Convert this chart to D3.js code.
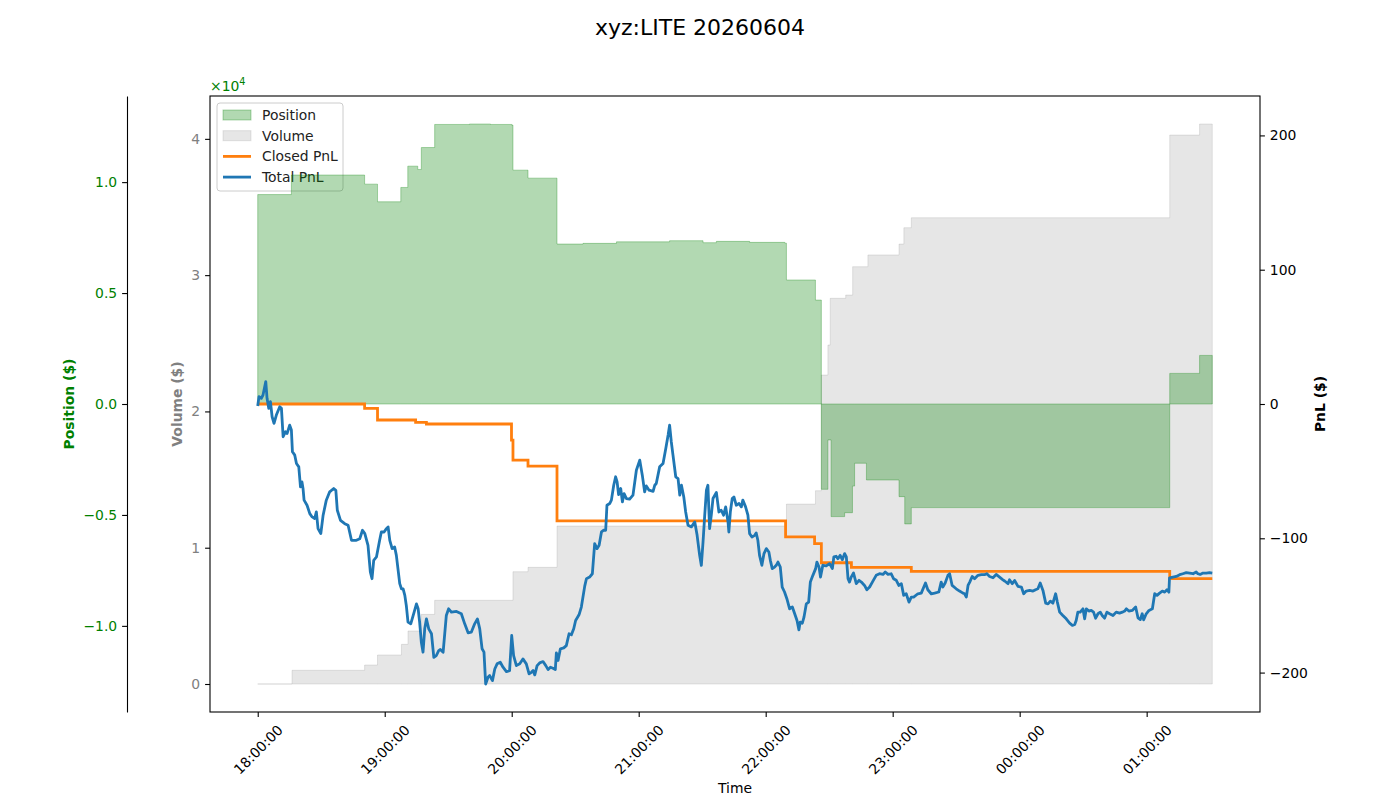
<!DOCTYPE html>
<html lang="en">
<head>
<meta charset="UTF-8">
<title>xyz:LITE 20260604</title>
<style>
    body { margin: 0; background: #fff; }
    svg { display: block; font-family: "DejaVu Sans", sans-serif; }
</style>
</head>
<body>
<svg id="chart" width="1400" height="800"></svg>
<script src="https://d3js.org/d3.v7.min.js"></script>
<script>
// all times are minutes after the session start
var sessionStart = new Date(2026, 5, 4, 18, 0, 0);
var sessionEnd = 451.0;

// position ($), changes at each fill
var positionData = [
    [0, 9440], [15.9, 10320], [50.5, 9910], [56.6, 9115], [67.6, 9760], [70.9, 10720],
    [75.6, 10570], [77.3, 11560], [83.6, 12600], [100, 12620], [110, 12600], [120, 12570],
    [120.6, 10540], [127.7, 10180], [141.4, 7210], [153.7, 7240], [169.5, 7310], [194.6, 7360],
    [210.4, 7270], [216.7, 7330], [232.4, 7285], [249.0, 7250], [249.8, 5590], [263.5, 4685],
    [266.3, -3845], [269.4, -1620], [270.9, -5075], [277.3, -4900], [281.0, -3700], [282.0, -2670],
    [287.6, -3425], [303.0, -4175], [305.7, -5405], [308.8, -4670], [430.9, 1380], [445.0, 2190],
    [451.0, 2190]
];

// cumulative traded volume ($)
var volumeData = [
    [0, 0], [16.2, 1005], [50.5, 1394], [56.6, 2128], [67.9, 2910], [71.0, 3890], [77.3, 5110],
    [83.6, 6140], [120.6, 8240], [127.7, 8560], [141.4, 11590], [249.8, 13200], [263.5, 14180],
    [266.3, 22670], [269.4, 24870], [270.5, 28300], [277.8, 28540], [281.1, 30620], [288.3, 31480],
    [303.0, 32280], [305.3, 33480], [308.8, 34210], [430.9, 40280], [445.0, 41090], [451.0, 41090]
];

// realised pnl ($)
var closedPnlData = [
    [0, 0], [50.5, -3.2], [56.6, -11.9], [74.6, -13.7], [79.7, -14.9], [119.9, -26.9],
    [120.6, -41.8], [127.7, -46.3], [141.4, -87.1], [249.4, -99.0], [263.1, -104.0],
    [266.3, -118.2], [280.5, -121.6], [308.8, -124.6], [430.9, -130.1], [451.0, -130.1]
];

// realised + unrealised pnl ($)
var totalPnlData = [
    [0, -1.5], [0.6, 5.5], [1.7, 4.2], [2.5, 6.7], [3.8, 16.7], [4.4, 4.2], [5.2, -3.2], [6.0, 1.7],
    [6.8, -9.5], [7.7, -14.4], [8.8, -8.2], [10.4, -2.0], [11.2, -3.2], [12.0, -24.4], [13.1, -20.6],
    [13.9, -21.9], [15.1, -15.7], [15.9, -19.4], [16.4, -35.6], [17.5, -38.1], [18.3, -44.3],
    [19.4, -46.8], [20.2, -61.7], [20.9, -58.0], [21.4, -62.9], [21.9, -71.6], [23.3, -75.4],
    [24.6, -81.6], [25.7, -84.1], [26.9, -85.3], [27.7, -80.4], [28.5, -92.8], [29.8, -96.5],
    [30.9, -82.8], [32.4, -71.6], [34.0, -65.4], [35.9, -62.9], [36.9, -64.2], [37.6, -79.1],
    [39.1, -86.6], [41.1, -89.1], [42.7, -90.3], [44.3, -101.5], [46.6, -101.5], [48.2, -100.3],
    [49.5, -94.0], [50.6, -96.5], [52.1, -105.2], [53.2, -125.1], [54.0, -130.1], [54.8, -116.4],
    [56.1, -113.9], [57.6, -101.5], [58.4, -95.3], [59.7, -95.3], [60.8, -92.8], [61.6, -91.5],
    [62.4, -101.5], [63.5, -107.7], [64.7, -106.5], [65.5, -112.7], [67.1, -133.8], [67.9, -137.6],
    [68.7, -137.6], [69.5, -142.5], [70.2, -150.0], [71.0, -162.4], [72.3, -163.7], [73.9, -155.0],
    [75.0, -148.8], [75.8, -152.5], [76.5, -162.4], [77.3, -177.4], [78.1, -184.8], [78.9, -167.4],
    [79.7, -160.0], [80.8, -167.4], [82.1, -171.1], [83.2, -188.6], [84.4, -187.3], [85.5, -183.6],
    [86.3, -182.8], [87.6, -184.8], [89.1, -157.5], [90.2, -152.5], [91.5, -155.0], [93.9, -154.5],
    [96.2, -156.2], [97.8, -163.7], [99.4, -170.4], [100.9, -169.9], [102.5, -163.7], [103.8, -160.0],
    [104.9, -167.4], [106.0, -182.3], [106.9, -184.8], [107.7, -208.5], [108.8, -203.5],
    [109.6, -202.2], [110.9, -206.0], [112.0, -197.3], [113.1, -193.5], [114.6, -192.3],
    [115.9, -196.0], [117.5, -199.3], [119.0, -198.5], [120.0, -172.4], [120.9, -187.3],
    [122.2, -194.8], [123.8, -193.5], [125.3, -189.8], [126.9, -193.5], [128.2, -201.0],
    [129.3, -199.8], [130.1, -198.5], [130.9, -201.7], [132.0, -194.8], [133.2, -192.8],
    [134.8, -191.8], [136.1, -194.8], [137.2, -197.8], [138.3, -196.0], [139.5, -196.8],
    [140.6, -197.8], [141.1, -185.3], [141.9, -191.0], [143.0, -182.3], [144.6, -181.6],
    [145.8, -179.9], [147.1, -171.1], [148.2, -171.9], [149.3, -167.4], [150.2, -161.2],
    [151.8, -157.0], [152.9, -151.2], [154.5, -135.6], [155.3, -130.1], [156.8, -128.9],
    [158.1, -126.4], [159.2, -104.0], [160.3, -107.7], [161.3, -105.2], [162.4, -95.3],
    [163.5, -94.0], [164.4, -94.0], [165.0, -75.4], [166.3, -74.1], [167.1, -71.6], [168.2, -60.5],
    [169.1, -54.2], [169.8, -58.0], [170.5, -67.4], [171.5, -62.9], [172.3, -72.9], [173.1, -66.7],
    [174.2, -70.4], [175.7, -70.9], [177.3, -67.9], [178.9, -49.3], [180.5, -41.8], [181.7, -53.0],
    [182.8, -65.4], [183.6, -61.0], [184.9, -64.2], [186.8, -65.0], [187.6, -60.5], [188.3, -59.2],
    [189.9, -46.8], [191.5, -44.3], [192.8, -33.1], [193.9, -23.1], [194.6, -15.7], [195.4, -28.1],
    [196.2, -38.1], [197.5, -54.2], [198.6, -55.5], [199.4, -67.9], [200.2, -60.5], [201.3, -69.2],
    [202.2, -80.4], [203.3, -90.3], [204.9, -91.5], [206.5, -87.8], [207.6, -97.8], [208.8, -112.7],
    [209.6, -120.2], [210.4, -102.7], [211.2, -82.8], [212.0, -64.2], [212.7, -60.5], [213.5, -92.8],
    [214.3, -82.8], [215.1, -70.4], [216.7, -65.9], [217.9, -80.4], [219.0, -79.1], [220.1, -82.8],
    [221.1, -76.6], [222.2, -87.8], [222.6, -95.3], [223.3, -80.3], [224.2, -70.4], [225.0, -69.2],
    [226.1, -75.4], [227.4, -74.1], [228.5, -76.6], [229.2, -71.6], [230.5, -76.6], [231.6, -82.8],
    [232.4, -96.5], [233.5, -99.0], [234.8, -97.8], [235.5, -96.0], [236.3, -101.5], [237.1, -112.7],
    [238.2, -120.1], [239.2, -111.4], [240.3, -107.7], [241.5, -110.2], [242.2, -116.4],
    [243.1, -122.6], [244.2, -121.4], [245.0, -120.1], [245.8, -117.7], [246.9, -121.4],
    [247.8, -136.3], [248.9, -140.0], [250.0, -145.0], [251.3, -152.5], [252.6, -151.2],
    [253.7, -156.2], [254.8, -161.2], [255.7, -168.2], [256.3, -162.4], [257.3, -163.2],
    [258.1, -158.7], [259.2, -148.8], [260.3, -147.5], [261.1, -132.6], [262.3, -127.6],
    [263.6, -122.6], [264.2, -117.7], [265.2, -121.4], [265.9, -128.9], [267.0, -120.1],
    [268.6, -120.6], [270.2, -118.9], [271.5, -122.6], [272.2, -113.9], [273.3, -113.4],
    [274.1, -115.2], [275.2, -112.7], [276.2, -115.9], [277.3, -111.4], [278.1, -113.9],
    [278.9, -130.1], [279.6, -132.6], [280.4, -128.9], [281.5, -125.9], [282.8, -133.8],
    [284.1, -131.3], [285.2, -132.6], [286.7, -135.1], [287.8, -138.3], [289.1, -136.3],
    [290.4, -132.6], [292.2, -127.6], [293.8, -126.4], [295.4, -126.9], [296.5, -125.1],
    [297.8, -126.9], [299.3, -126.4], [300.4, -130.1], [301.7, -131.3], [302.9, -135.1],
    [304.1, -133.8], [305.2, -142.5], [306.4, -141.3], [307.7, -147.5], [308.8, -143.8],
    [309.9, -143.8], [311.9, -141.3], [313.5, -140.8], [315.5, -133.3], [316.6, -138.3],
    [318.2, -141.3], [319.8, -140.8], [321.8, -140.0], [322.9, -132.6], [323.7, -136.3],
    [324.8, -133.3], [326.1, -127.6], [326.9, -126.4], [328.1, -135.1], [330.0, -137.6],
    [331.6, -139.3], [333.2, -140.8], [334.0, -141.3], [334.8, -143.8], [335.6, -135.1],
    [336.4, -132.6], [337.6, -128.4], [338.7, -130.1], [340.3, -127.6], [341.9, -127.1],
    [343.4, -127.1], [344.5, -126.4], [345.8, -128.4], [347.4, -129.4], [348.9, -126.9],
    [350.5, -128.9], [352.1, -130.9], [352.9, -131.8], [354.5, -133.8], [355.2, -130.9],
    [356.5, -133.8], [357.6, -131.4], [359.2, -135.8], [360.8, -136.3], [361.9, -141.3],
    [363.1, -139.3], [364.7, -138.8], [366.3, -139.3], [367.5, -138.3], [368.6, -137.6],
    [369.7, -133.3], [371.0, -138.8], [372.3, -148.3], [373.4, -148.8], [374.5, -146.8],
    [375.7, -148.3], [377.0, -141.3], [377.8, -147.5], [378.9, -155.0], [380.4, -157.5],
    [382.0, -160.0], [383.6, -163.2], [384.9, -164.9], [386.0, -164.2], [386.7, -161.2],
    [387.5, -155.0], [388.6, -155.0], [389.9, -152.5], [390.7, -160.0], [391.5, -152.5],
    [392.7, -154.2], [393.8, -153.7], [394.9, -155.0], [395.9, -159.5], [397.0, -156.2],
    [398.1, -155.0], [399.0, -157.5], [400.1, -159.5], [401.2, -155.0], [402.5, -156.2],
    [404.1, -157.5], [405.6, -155.0], [407.2, -155.7], [408.5, -155.0], [409.6, -154.2],
    [410.4, -152.5], [411.6, -154.2], [413.2, -153.7], [414.8, -151.2], [415.9, -159.2],
    [417.0, -160.5], [417.9, -156.2], [418.6, -160.7], [419.8, -156.2], [421.1, -153.7],
    [422.7, -152.5], [423.8, -141.3], [424.9, -142.5], [426.1, -140.8], [427.4, -139.3],
    [428.5, -140.1], [429.6, -138.3], [430.5, -140.1], [430.8, -129.4], [432.4, -128.9],
    [434.0, -128.4], [435.6, -127.1], [437.1, -126.4], [438.7, -125.6], [440.3, -125.9],
    [441.9, -126.4], [443.4, -125.1], [444.2, -126.4], [445.3, -126.9], [446.6, -125.9],
    [448.2, -125.9], [449.7, -125.6], [451.0, -125.9]
];

// tick values
var timeTicksMin = [0, 60, 120, 180, 240, 300, 360, 420];
var volumeTicks = [0, 10000, 20000, 30000, 40000];
var positionTicks = [-10000, -5000, 0, 5000, 10000];
var pnlTicks = [-200, -100, 0, 100, 200];

var legendItems = [
    { label: 'Position', kind: 'patch', color: 'green', alpha: 0.3 },
    { label: 'Volume', kind: 'patch', color: 'gray', alpha: 0.2 },
    { label: 'Closed PnL', kind: 'line', color: '#ff7f0e' },
    { label: 'Total PnL', kind: 'line', color: '#1f77b4' }
];

var box = { left: 210, right: 1260, top: 96, bottom: 712 };
var tickFont = 13.9;

function toTime(m) { return new Date(sessionStart.getTime() + m * 60000); }

var svg = d3.select('#chart');

// scales (5% margins like matplotlib, symmetric for position/pnl)
var t0 = toTime(0), t1 = toTime(sessionEnd), span = t1 - t0;
var x = d3.scaleTime()
    .domain([new Date(+t0 - span * 0.05), new Date(+t1 + span * 0.05)])
    .range([box.left, box.right]);

var volMax = d3.max(volumeData, function(d) { return d[1]; });
var yVol = d3.scaleLinear().domain([-volMax * 0.05, volMax * 1.05]).range([box.bottom, box.top]);

var posLim = d3.max(positionData, function(d) { return Math.abs(d[1]); }) * 1.1;
var yPos = d3.scaleLinear().domain([-posLim, posLim]).range([box.bottom, box.top]);

var pnlLim = d3.max(closedPnlData.concat(totalPnlData), function(d) { return Math.abs(d[1]); }) * 1.1;
var yPnl = d3.scaleLinear().domain([-pnlLim, pnlLim]).range([box.bottom, box.top]);

// title
svg.append('text')
    .attr('x', 700).attr('y', 27)
    .attr('text-anchor', 'middle').attr('dominant-baseline', 'central')
    .style('font-size', '22px')
    .text('xyz:LITE 20260604');

// volume fill
var volArea = d3.area()
    .curve(d3.curveStepAfter)
    .x(function(d) { return x(toTime(d[0])); })
    .y0(yVol(0))
    .y1(function(d) { return yVol(d[1]); });

svg.append('path')
    .datum(volumeData)
    .attr('d', volArea)
    .attr('fill', 'gray').attr('fill-opacity', 0.2)
    .attr('stroke', 'gray').attr('stroke-opacity', 0.2).attr('stroke-width', 1);

// legend (sits in the volume axes, under the other layers)
var lg = svg.append('g').attr('transform', 'translate(217,103)');
lg.append('rect')
    .attr('width', 126).attr('height', 88).attr('rx', 3)
    .attr('fill', 'white').attr('fill-opacity', 0.8)
    .attr('stroke', '#cccccc').attr('stroke-width', 1);

legendItems.forEach(function(item, i) {
    var cy = 12 + i * 20.7;
    if (item.kind === 'patch') {
        lg.append('rect')
            .attr('x', 6).attr('y', cy - 5).attr('width', 28).attr('height', 10)
            .attr('fill', item.color).attr('fill-opacity', item.alpha)
            .attr('stroke', item.color).attr('stroke-opacity', item.alpha);
    } else {
        lg.append('line')
            .attr('x1', 6).attr('x2', 34).attr('y1', cy).attr('y2', cy)
            .attr('stroke', item.color).attr('stroke-width', 2.8);
    }
    lg.append('text')
        .attr('x', 45).attr('y', cy)
        .attr('dominant-baseline', 'central')
        .style('font-size', tickFont + 'px')
        .attr('fill', '#222')
        .text(item.label);
});

// position fill
var posArea = d3.area()
    .curve(d3.curveStepAfter)
    .x(function(d) { return x(toTime(d[0])); })
    .y0(yPos(0))
    .y1(function(d) { return yPos(d[1]); });

svg.append('path')
    .datum(positionData)
    .attr('d', posArea)
    .attr('fill', 'green').attr('fill-opacity', 0.3)
    .attr('stroke', 'green').attr('stroke-opacity', 0.3).attr('stroke-width', 1);

// pnl lines
var closedLine = d3.line()
    .curve(d3.curveStepAfter)
    .x(function(d) { return x(toTime(d[0])); })
    .y(function(d) { return yPnl(d[1]); });

var totalLine = d3.line()
    .x(function(d) { return x(toTime(d[0])); })
    .y(function(d) { return yPnl(d[1]); });

svg.append('path')
    .datum(closedPnlData)
    .attr('d', closedLine)
    .attr('fill', 'none').attr('stroke', '#ff7f0e').attr('stroke-width', 2.8);

svg.append('path')
    .datum(totalPnlData)
    .attr('d', totalLine)
    .attr('fill', 'none').attr('stroke', '#1f77b4').attr('stroke-width', 2.8)
    .attr('stroke-linejoin', 'round');

// axes frame
svg.append('rect')
    .attr('x', box.left).attr('y', box.top)
    .attr('width', box.right - box.left).attr('height', box.bottom - box.top)
    .attr('fill', 'none').attr('stroke', 'black').attr('stroke-width', 1.1);

function styleAxis(g, color) {
    g.selectAll('.tick line').attr('stroke', 'black').attr('stroke-width', 1.1);
    g.selectAll('.tick text').attr('fill', color).style('font-size', tickFont + 'px')
        .style('font-family', '"DejaVu Sans", sans-serif');
    g.select('.domain').attr('stroke', 'black').attr('stroke-width', 1.1);
}

// x axis
var xAxisG = svg.append('g')
    .attr('transform', 'translate(0,' + box.bottom + ')')
    .call(d3.axisBottom(x)
        .tickValues(timeTicksMin.map(toTime))
        .tickFormat(d3.timeFormat('%H:%M:%S'))
        .tickSize(4.9).tickSizeOuter(0));
xAxisG.select('.domain').remove();
styleAxis(xAxisG, 'black');
xAxisG.selectAll('.tick text').each(function() {
    var t = d3.select(this);
    var w = this.getComputedTextLength();
    var h = tickFont * 1.16;
    var cy = 9.8 + (w + h) / (2 * Math.SQRT2);
    t.attr('x', null).attr('y', null).attr('dy', null)
        .attr('text-anchor', 'middle').attr('dominant-baseline', 'central')
        .attr('transform', 'translate(0,' + cy + ') rotate(-45)');
});

svg.append('text')
    .attr('x', (box.left + box.right) / 2).attr('y', 788)
    .attr('text-anchor', 'middle').attr('dominant-baseline', 'central')
    .style('font-size', tickFont + 'px')
    .text('Time');

// volume axis (left spine)
var volAxisG = svg.append('g')
    .attr('transform', 'translate(' + box.left + ',0)')
    .call(d3.axisLeft(yVol)
        .tickValues(volumeTicks)
        .tickFormat(function(d) { return d3.format('d')(d / 10000); })
        .tickSize(4.9).tickPadding(4.9).tickSizeOuter(0));
volAxisG.select('.domain').remove();
styleAxis(volAxisG, 'gray');

svg.append('text')
    .attr('transform', 'translate(177,' + ((box.top + box.bottom) / 2) + ') rotate(-90)')
    .attr('text-anchor', 'middle').attr('dominant-baseline', 'central')
    .style('font-size', tickFont + 'px').style('font-weight', 'bold')
    .attr('fill', 'gray')
    .text('Volume ($)');

// position axis (spine pushed outward)
var posAxisG = svg.append('g')
    .attr('transform', 'translate(127,0)')
    .call(d3.axisLeft(yPos)
        .tickValues(positionTicks)
        .tickFormat(function(d) { return d3.format('.1f')(d / 10000); })
        .tickSize(4.9).tickPadding(4.9).tickSizeOuter(0));
styleAxis(posAxisG, 'green');

svg.append('text')
    .attr('transform', 'translate(69,' + ((box.top + box.bottom) / 2) + ') rotate(-90)')
    .attr('text-anchor', 'middle').attr('dominant-baseline', 'central')
    .style('font-size', tickFont + 'px').style('font-weight', 'bold')
    .attr('fill', 'green')
    .text('Position ($)');

// offset text for the scaled axes
var offs = svg.append('text')
    .attr('x', box.left).attr('y', 91)
    .attr('fill', 'green')
    .style('font-size', tickFont + 'px');
offs.append('tspan').text('×10');
offs.append('tspan').attr('dy', -6).style('font-size', '9.7px').text('4');

// pnl axis (right)
var pnlAxisG = svg.append('g')
    .attr('transform', 'translate(' + box.right + ',0)')
    .call(d3.axisRight(yPnl)
        .tickValues(pnlTicks)
        .tickFormat(d3.format('d'))
        .tickSize(4.9).tickPadding(4.9).tickSizeOuter(0));
pnlAxisG.select('.domain').remove();
styleAxis(pnlAxisG, 'black');

svg.append('text')
    .attr('transform', 'translate(1320,' + ((box.top + box.bottom) / 2) + ') rotate(-90)')
    .attr('text-anchor', 'middle').attr('dominant-baseline', 'central')
    .style('font-size', tickFont + 'px').style('font-weight', 'bold')
    .text('PnL ($)');
</script>
</body>
</html>
